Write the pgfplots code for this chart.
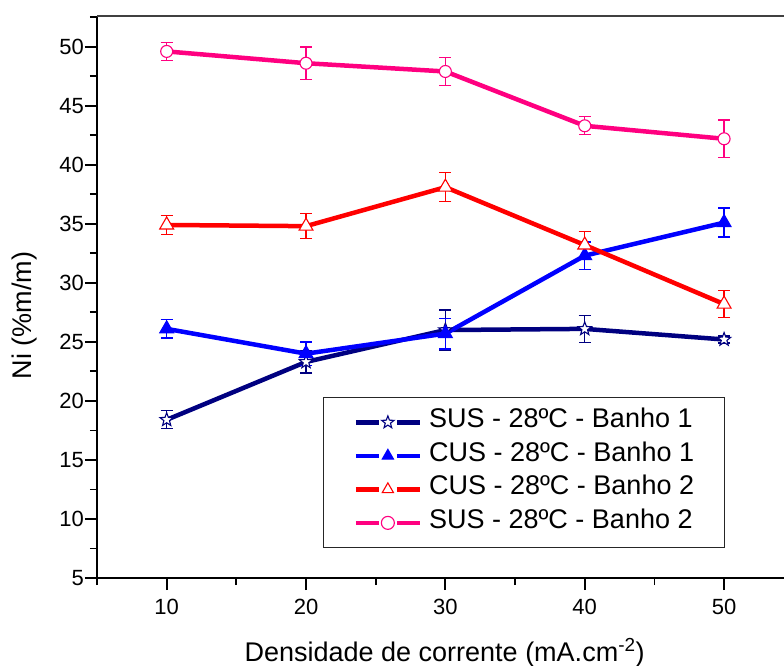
\documentclass[border=0pt]{standalone}
\usepackage{pgfplots}
\pgfplotsset{compat=1.18}
\usepackage{pgfplotstable}
\usepackage{fontspec}
\setmainfont{Liberation Sans}
\definecolor{cnavy}{RGB}{0,0,128}
\definecolor{cblue}{RGB}{0,0,255}
\definecolor{cred}{RGB}{255,0,0}
\definecolor{cpink}{RGB}{255,0,128}
\pgfdeclareplotmark{ostar}{%
  \pgfpathmoveto{\pgfpointpolar{90}{\pgfplotmarksize}}%
  \pgfpathlineto{\pgfpointpolar{126}{0.42\pgfplotmarksize}}%
  \pgfpathlineto{\pgfpointpolar{162}{\pgfplotmarksize}}%
  \pgfpathlineto{\pgfpointpolar{198}{0.42\pgfplotmarksize}}%
  \pgfpathlineto{\pgfpointpolar{234}{\pgfplotmarksize}}%
  \pgfpathlineto{\pgfpointpolar{270}{0.42\pgfplotmarksize}}%
  \pgfpathlineto{\pgfpointpolar{306}{\pgfplotmarksize}}%
  \pgfpathlineto{\pgfpointpolar{342}{0.42\pgfplotmarksize}}%
  \pgfpathlineto{\pgfpointpolar{18}{\pgfplotmarksize}}%
  \pgfpathlineto{\pgfpointpolar{54}{0.42\pgfplotmarksize}}%
  \pgfpathclose
  \pgfusepathqfillstroke}
\pgfplotstableread{
x y e
10 18.4 0.76
20 23.3 0.95
30 26.0 1.70
40 26.1 1.15
50 25.2 0.30
}\susA
\pgfplotstableread{
x y e
10 26.1 0.78
20 24.0 1.00
30 25.7 1.30
40 32.3 1.15
50 35.1 1.23
}\cusA
\pgfplotstableread{
x y e
10 34.9 0.78
20 34.8 1.07
30 38.1 1.23
40 33.2 1.15
50 28.2 1.13
}\cusB
\pgfplotstableread{
x y e
10 49.6 0.76
20 48.6 1.38
30 47.9 1.16
40 43.3 0.76
50 42.2 1.60
}\susB
\begin{document}
\begin{tikzpicture}
\begin{axis}[
  at={(97pt,88pt)}, anchor=south west,
  scale only axis, width=687pt, height=562pt,
  xmin=5, xmax=54.3, ymin=5, ymax=52.6,
  axis x line*=bottom, axis y line*=left,
  axis line style={-, line width=2pt, black},
  clip=false,
  xtick={10,20,30,40,50}, minor xtick={5,15,25,35,45},
  ytick={5,10,...,50}, minor ytick={7.5,12.5,...,52.5},
  tick align=outside,
  major tick length=12pt, minor tick length=7pt,
  every tick/.style={line width=1.8pt, black},
  /pgf/number format/assume math mode=true,
  tick label style={font=\fontsize{22}{26}\selectfont},
  yticklabel style={inner sep=0pt, xshift=-1pt},
  xticklabel style={inner sep=0pt, yshift=-9pt},
  xlabel={Densidade de corrente (mA.cm\textsuperscript{-2})},
  ylabel={Ni (\%m/m)},
  label style={font=\fontsize{27}{32}\selectfont, inner sep=0pt},
  xlabel style={at={(axis description cs:0.506,0)}, anchor=base, yshift=-83pt},
  ylabel style={at={(axis description cs:-0.0863,0.467)}, anchor=south},
  legend style={at={(axis description cs:0.329,0.322)}, anchor=north west,
    draw=black!85, line width=1.2pt, font=\fontsize{27}{32}\selectfont,
    inner xsep=30pt, inner ysep=8pt, column sep=7pt,
    nodes={inner sep=0pt, text height=22pt, text depth=11.5pt}},
  legend cell align=left,
  legend image code/.code={%
    \draw[#1] (0pt,0pt) -- (23pt,0pt) (41pt,0pt) -- (64pt,0pt);
    \draw[#1,mark size=6.5pt] plot coordinates {(32pt,0pt)};},
  every axis plot/.append style={line width=4.5pt},
  error bars/error bar style={line width=1.3pt},
  error bars/error mark options={rotate=90, line width=1.3pt, mark size=6pt},
]
\addplot[color=cnavy, mark=ostar, mark size=7pt, mark options={fill=white, line width=1.1pt},
  error bars/.cd, y dir=both, y explicit] table[x=x,y=y,y error=e] {\susA};
\addlegendentry{SUS - 28ºC - Banho 1}
\addplot[color=cblue, mark=triangle*, mark size=8pt, mark options={fill=cblue, line width=1.1pt},
  error bars/.cd, y dir=both, y explicit] table[x=x,y=y,y error=e] {\cusA};
\addlegendentry{CUS - 28ºC - Banho 1}
\addplot[color=cred, mark=triangle*, mark size=8pt, mark options={fill=white, line width=1.1pt},
  error bars/.cd, y dir=both, y explicit] table[x=x,y=y,y error=e] {\cusB};
\addlegendentry{CUS - 28ºC - Banho 2}
\addplot[color=cpink, mark=*, mark size=6pt, mark options={fill=white, line width=1.1pt},
  error bars/.cd, y dir=both, y explicit] table[x=x,y=y,y error=e] {\susB};
\addlegendentry{SUS - 28ºC - Banho 2}
\draw[line width=1.2pt, black!75] (rel axis cs:0,1) -- (rel axis cs:1.05,1);
\end{axis}
\pgfresetboundingbox
\path[use as bounding box] (0,0) rectangle (784pt,666pt);
\end{tikzpicture}
\end{document}
